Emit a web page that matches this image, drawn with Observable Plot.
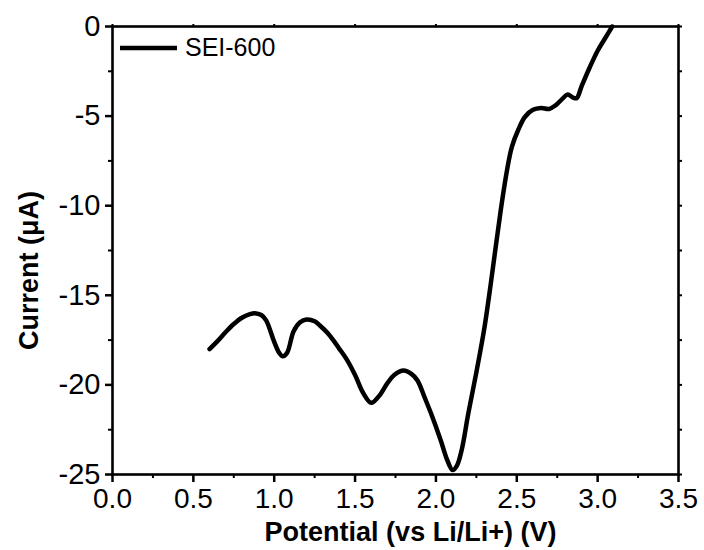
<!DOCTYPE html>
<html>
<head>
<meta charset="utf-8">
<script src="https://cdn.jsdelivr.net/npm/d3@7"></script>
<script src="https://cdn.jsdelivr.net/npm/@observablehq/plot@0.6"></script>
<style>
  html, body { margin: 0; padding: 0; background: #fff; }
  #wrap { position: relative; width: 704px; height: 550px; }
  #legend { position: absolute; left: 118px; top: 33px; display: flex; align-items: center;
            font-family: "Liberation Sans", Arial, sans-serif; font-size: 25px; color: #000; }
  #legend svg { margin-right: 5px; }
</style>
</head>
<body>
<div id="wrap"></div>
<script>
const seriesName = "SEI-600";
const potential = [0.60,0.645,0.70,0.75,0.80,0.85,0.88,0.92,0.95,1.00,1.03,1.053,1.08,1.12,1.16,1.20,1.25,1.284,1.33,1.365,1.40,1.45,1.50,1.55,1.60,1.65,1.70,1.742,1.80,1.85,1.886,1.93,1.97,2.03,2.07,2.103,2.13,2.16,2.20,2.25,2.30,2.34,2.40,2.44,2.47,2.51,2.55,2.60,2.65,2.70,2.74,2.78,2.815,2.845,2.87,2.90,2.95,3.00,3.05,3.09];
const current   = [-18.0,-17.6,-17.05,-16.6,-16.25,-16.05,-16.0,-16.1,-16.4,-17.6,-18.2,-18.4,-18.2,-17.0,-16.5,-16.35,-16.45,-16.7,-17.1,-17.5,-17.95,-18.6,-19.45,-20.45,-21.0,-20.6,-19.9,-19.45,-19.2,-19.4,-19.75,-20.7,-21.6,-23.1,-24.2,-24.75,-24.5,-23.6,-21.6,-19.3,-16.8,-14.3,-10.3,-8.0,-6.7,-5.75,-5.05,-4.65,-4.55,-4.6,-4.4,-4.05,-3.8,-3.95,-4.0,-3.35,-2.3,-1.35,-0.6,0.0];
const xMajor = [0, 0.5, 1.0, 1.5, 2.0, 2.5, 3.0, 3.5];
const xMinor = [0.25, 0.75, 1.25, 1.75, 2.25, 2.75, 3.25];
const yMajor = [0, -5, -10, -15, -20, -25];
const yMinor = [-2.5, -7.5, -12.5, -17.5, -22.5];
const xTitle = "Potential (vs Li/Li+) (V)";
const yTitle = "Current (\u03bcA)";

const data = potential.map((v, i) => ({v, c: current[i]}));
const blank = () => "";

const chart = Plot.plot({
  width: 704,
  height: 550,
  marginLeft: 112,
  marginRight: 26,
  marginTop: 26,
  marginBottom: 76,
  style: {fontFamily: "'Liberation Sans', Arial, sans-serif", fontSize: "28px", color: "#000", background: "#fff"},
  x: {domain: [0, 3.5]},
  y: {domain: [-25, 0]},
  marks: [
    Plot.axisX(xMajor, {anchor: "bottom", tickSize: 8, tickPadding: 6, strokeWidth: 2.5, tickFormat: d => d.toFixed(1), label: null, fontSize: 28}),
    Plot.axisX(xMinor, {anchor: "bottom", tickSize: 4, strokeWidth: 2, tickFormat: blank, label: null}),
    Plot.axisX(xMajor, {anchor: "top", tickSize: 3, strokeWidth: 2, tickFormat: blank, label: null}),
    Plot.axisY(yMajor, {anchor: "left", tickSize: 7, tickPadding: 5, strokeWidth: 2.5, tickFormat: d => String(d), label: null, fontSize: 29}),
    Plot.axisY(yMinor, {anchor: "left", tickSize: 4, strokeWidth: 2, tickFormat: blank, label: null}),
    Plot.axisY(yMajor.concat(yMinor), {anchor: "right", tickSize: 3, strokeWidth: 2, tickFormat: blank, label: null}),
    Plot.frame({strokeWidth: 2.6}),
    Plot.line(data, {x: "v", y: "c", curve: "catmull-rom", stroke: "#000", strokeWidth: 4.5}),
    Plot.text([xTitle], {frameAnchor: "bottom", textAnchor: "middle", lineAnchor: "middle", dx: 15, dy: 58, fontWeight: "bold", fontSize: 27, text: d => d}),
    Plot.text([yTitle], {frameAnchor: "left", textAnchor: "middle", lineAnchor: "middle", rotate: -90, dx: -83, dy: 20, fontWeight: "bold", fontSize: 27, text: d => d})
  ]
});

const wrap = document.getElementById("wrap");
wrap.appendChild(chart);
const legend = document.createElement("div");
legend.id = "legend";
legend.innerHTML = '<svg width="62" height="10"><line x1="2" y1="5" x2="59" y2="5" stroke="#000" stroke-width="4.5"/></svg><span></span>';
legend.querySelector("span").textContent = seriesName;
wrap.appendChild(legend);
</script>
</body>
</html>
